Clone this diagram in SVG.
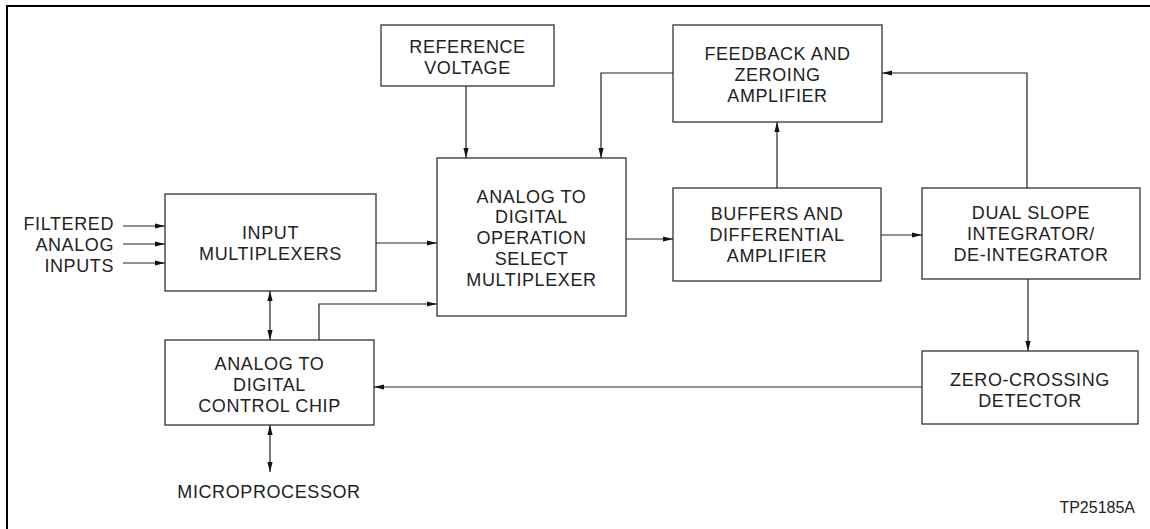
<svg xmlns="http://www.w3.org/2000/svg" width="1150" height="529" viewBox="0 0 1150 529">
<style>
.box{fill:#fff;stroke:#333;stroke-width:1.3}
.t{font-family:"Liberation Sans",Arial,sans-serif;font-size:18px;letter-spacing:0.6px;fill:#222;text-anchor:middle}
.r{text-anchor:end}
.c{fill:none;stroke:#222;stroke-width:1.2}
</style>
<defs>
<marker id="a" viewBox="0 0 10 6" refX="10" refY="3" markerWidth="10" markerHeight="6" markerUnits="userSpaceOnUse" orient="auto-start-reverse">
<path d="M0,0.4 L10,3 L0,5.6 Z" fill="#111"/>
</marker>
</defs>
<rect width="1150" height="529" fill="#fff"/>
<path d="M7,529 V6 H1150" fill="none" stroke="#000" stroke-width="2"/>

<g id="ref-voltage">
<rect class="box" x="381" y="25" width="173" height="61"/>
<text class="t" x="467.5" y="53">REFERENCE</text>
<text class="t" x="467.5" y="73.5">VOLTAGE</text>
</g>
<g id="feedback">
<rect class="box" x="673" y="25" width="209" height="97"/>
<text class="t" x="777.5" y="60">FEEDBACK AND</text>
<text class="t" x="777.5" y="81">ZEROING</text>
<text class="t" x="777.5" y="102">AMPLIFIER</text>
</g>
<g id="input-mux">
<rect class="box" x="165" y="194" width="211" height="97"/>
<text class="t" x="270.5" y="239">INPUT</text>
<text class="t" x="270.5" y="260">MULTIPLEXERS</text>
</g>
<g id="adc-mux">
<rect class="box" x="437" y="158" width="189" height="158"/>
<text class="t" x="531.5" y="202.7">ANALOG TO</text>
<text class="t" x="531.5" y="223.4">DIGITAL</text>
<text class="t" x="531.5" y="244.1">OPERATION</text>
<text class="t" x="531.5" y="264.8">SELECT</text>
<text class="t" x="531.5" y="285.5">MULTIPLEXER</text>
</g>
<g id="buffers">
<rect class="box" x="673" y="188" width="208" height="93"/>
<text class="t" x="777" y="220">BUFFERS AND</text>
<text class="t" x="777" y="241">DIFFERENTIAL</text>
<text class="t" x="777" y="262">AMPLIFIER</text>
</g>
<g id="dual-slope">
<rect class="box" x="922" y="188" width="218" height="91"/>
<text class="t" x="1031" y="219">DUAL SLOPE</text>
<text class="t" x="1031" y="240">INTEGRATOR/</text>
<text class="t" x="1031" y="261">DE-INTEGRATOR</text>
</g>
<g id="control-chip">
<rect class="box" x="165" y="340" width="209" height="85"/>
<text class="t" x="269.5" y="370">ANALOG TO</text>
<text class="t" x="269.5" y="391">DIGITAL</text>
<text class="t" x="269.5" y="412">CONTROL CHIP</text>
</g>
<g id="zero-crossing">
<rect class="box" x="922" y="351" width="216" height="73"/>
<text class="t" x="1030" y="386">ZERO-CROSSING</text>
<text class="t" x="1030" y="407">DETECTOR</text>
</g>
<g id="labels">
<text class="t r" x="114" y="230">FILTERED</text>
<text class="t r" x="114" y="251">ANALOG</text>
<text class="t r" x="114" y="272">INPUTS</text>
<text class="t" x="269" y="498">MICROPROCESSOR</text>
<text class="t r" x="1135" y="513" style="font-size:16px;letter-spacing:0">TP25185A</text>
</g>
<g id="connectors">
<path class="c" d="M123,226 H165" marker-end="url(#a)"/>
<path class="c" d="M123,244 H165" marker-end="url(#a)"/>
<path class="c" d="M123,263 H165" marker-end="url(#a)"/>
<path class="c" d="M376,243 H437" marker-end="url(#a)"/>
<path class="c" d="M319,340 V304 H437" marker-end="url(#a)"/>
<path class="c" d="M270,291 V340" marker-start="url(#a)" marker-end="url(#a)"/>
<path class="c" d="M466,86 V158" marker-end="url(#a)"/>
<path class="c" d="M673,73 H601 V158" marker-end="url(#a)"/>
<path class="c" d="M626,239 H673" marker-end="url(#a)"/>
<path class="c" d="M777,188 V122" marker-end="url(#a)"/>
<path class="c" d="M881,235 H922" marker-end="url(#a)"/>
<path class="c" d="M1027,188 V73 H882" marker-end="url(#a)"/>
<path class="c" d="M1028,279 V351" marker-end="url(#a)"/>
<path class="c" d="M922,387 H374" marker-end="url(#a)"/>
<path class="c" d="M270,425 V472" marker-start="url(#a)" marker-end="url(#a)"/>
</g>
</svg>
